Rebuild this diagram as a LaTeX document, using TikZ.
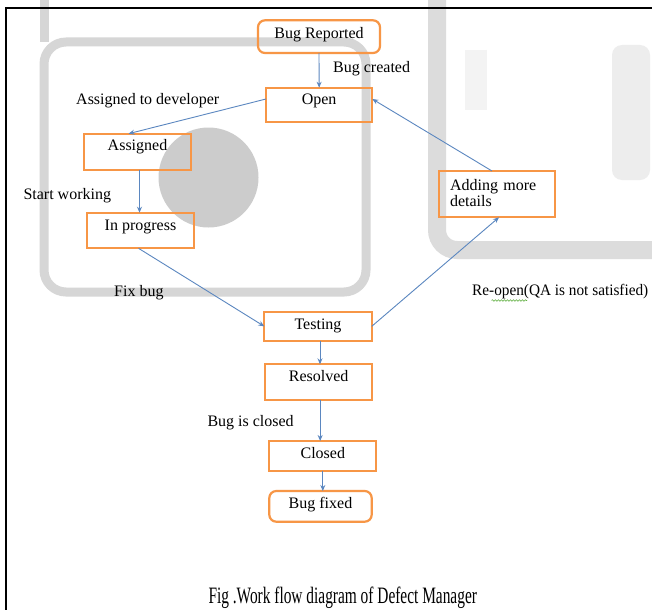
\documentclass[tikz,border=0pt]{standalone}
\usepackage{fontspec}
\setmainfont{Liberation Serif}
\usetikzlibrary{arrows.meta,calc,decorations.pathmorphing}
\definecolor{boxorange}{HTML}{F79646}
\definecolor{arrowblue}{HTML}{5B87C0}
\definecolor{wmgray}{HTML}{D6D6D6}
\definecolor{spellgreen}{HTML}{5FAF3F}
\begin{document}
\begin{tikzpicture}[x=1pt,y=-1pt,
  bx/.style={draw=boxorange,line width=2.2pt,inner xsep=0pt,inner ysep=0pt,outer sep=0pt,anchor=north west,font=\fontsize{16}{17}\selectfont},
  rbx/.style={bx,rounded corners=7pt},
  lbl/.style={anchor=base west,inner sep=0pt,font=\fontsize{16}{17}\selectfont},
  arr/.style={draw=arrowblue,line width=0.9pt,-{Stealth[length=6pt,width=5pt]}},
  wm/.style={draw=wmgray,line width=9pt}]
\fill[white] (0,0) rectangle (652,610);
\useasboundingbox (0,0) rectangle (652,610);
% watermark remnants
\draw[wm] (44,0) -- (44,42);
\draw[wm,rounded corners=22pt] (44,42) rectangle (366,292);
\fill[black!20] (208.5,177.5) circle (50);
\draw[wm,draw=wmgray!85,line width=18pt,rounded corners=20pt] (437,0) -- (437,250) -- (660,250);
\fill[wmgray!45,rounded corners=10pt] (612,45) rectangle (650,180);
\draw[wmgray!30,line width=22pt] (476,50) -- (476,110);
% frame
\draw[line width=2pt] (652,8.5) -- (5.5,8.5) -- (5.5,610);
% boxes
\node[rbx,minimum width=122pt,text height=18pt,text depth=14.7pt] (rep) at (258,20.3) {Bug Reported};
\node[bx,minimum width=106.3pt,text height=16.3pt,text depth=18.3pt] (open) at (266,87.7) {Open};
\node[bx,minimum width=107.6pt,text height=17pt,text depth=19pt] (assigned) at (83.7,133.7) {Assigned};
\node[bx,minimum width=107pt,text height=17.3pt,text depth=18.3pt] (inprog) at (87,212.7) {In progress};
\node[bx,minimum width=107.4pt,text height=17.3pt,text depth=11.4pt] (testing) at (264.3,312) {Testing};
\node[bx,minimum width=107.3pt,text height=17.4pt,text depth=18pt] (resolved) at (265,364.3) {Resolved};
\node[bx,minimum width=107pt,text height=17.3pt,text depth=12.4pt] (closed) at (269.3,441) {Closed};
\node[rbx,minimum width=102.4pt,text height=17.3pt,text depth=13.4pt] (fixed) at (269.3,491) {Bug fixed};
\node[bx,inner xsep=10.7pt,text width=94pt,align=left,text height=19pt,text depth=27.3pt,font=\fontsize{16}{16.7}\selectfont] (adding) at (439.3,171) {Adding more\\details};
% labels
\node[lbl] (lcreated) at (333,72) {Bug created};
\node[lbl] (lassign) at (76,104) {Assigned to developer};
\node[lbl] (lstart) at (23.3,199.3) {Start working};
\node[lbl] (lfix) at (114,296.7) {Fix bug};
\node[lbl] (lreopen) at (472,295) {\scalebox{0.955}[1]{Re-open(QA is not satisfied)}};
\node[lbl] (lclosed) at (207.3,426) {Bug is closed};
\node[anchor=base west,inner sep=0pt,font=\fontsize{23.5}{25}\selectfont] (caption) at (208.3,603.3) {\scalebox{0.655}[1]{Fig .Work flow diagram of Defect Manager}};
\draw[spellgreen,line width=0.6pt,decorate,decoration={snake,amplitude=0.8pt,segment length=3pt}] (491.5,300.5) -- (527,300.5);
% connectors
\draw[arr] (rep.south) -- (open.north);
\draw[arr] ($(open.west)+(0,-6)$) -- ($(assigned.north)+(-9,0)$);
\coordinate (a1) at ($(assigned.south)+(2,0)$);
\draw[arr] (a1) -- (a1 |- inprog.north);
\draw[arr] ($(inprog.south)+(-2,0)$) -- (testing.west);
\draw[arr] (testing.east) -- ($(adding.south)+(2,0)$);
\draw[arr] ($(adding.north)+(-5,0)$) -- ($(open.east)+(0,-6)$);
\coordinate (t1) at ($(testing.south)+(2,0)$);
\draw[arr] (t1) -- (t1 |- resolved.north);
\coordinate (r1) at ($(resolved.south)+(1.5,0)$);
\draw[arr] (r1) -- (r1 |- closed.north);
\draw[arr] (closed.south) -- (closed.south |- fixed.north);
\end{tikzpicture}
\end{document}
